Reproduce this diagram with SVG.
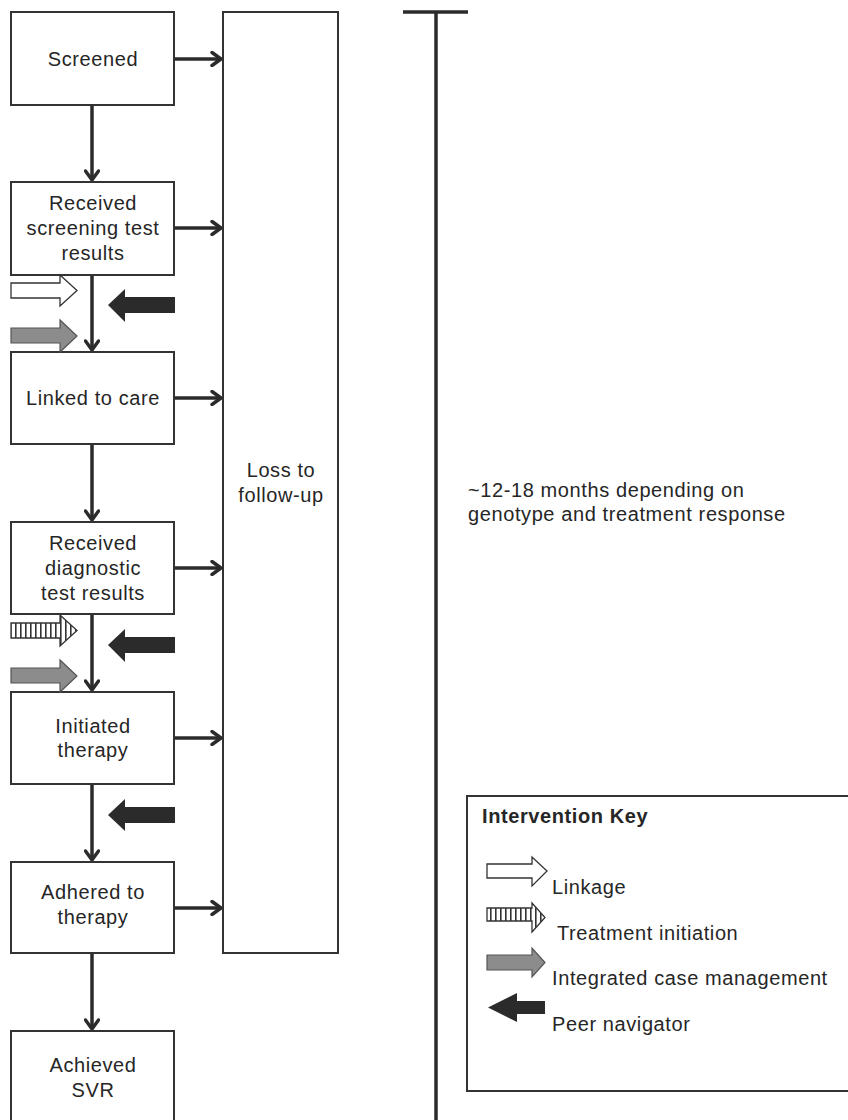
<svg xmlns="http://www.w3.org/2000/svg" width="848" height="1120" viewBox="0 0 848 1120">
<style>
  .box { fill: #fff; stroke: #333; stroke-width: 2; }
  .t { font-family: "Liberation Sans", Arial, sans-serif; font-size: 20px; letter-spacing: 0.6px; fill: #262626; text-anchor: middle; }
  .lt { font-family: "Liberation Sans", Arial, sans-serif; font-size: 20px; letter-spacing: 0.6px; fill: #262626; }
  .conn { stroke: #2b2b2b; stroke-width: 3.5; fill: none; }
  .white { fill: #fff; stroke: #333; stroke-width: 1.3; }
  .gray { fill: #8c8c8c; stroke: #555; stroke-width: 1.2; }
  .black { fill: #2b2b2b; stroke: none; }
  .striped { fill: url(#stripes); stroke: #333; stroke-width: 1.3; }
</style>
<defs>
  <pattern id="stripes" patternUnits="userSpaceOnUse" width="5" height="10">
    <rect width="5" height="10" fill="#fff"/>
    <rect x="0" width="1.6" height="10" fill="#333"/>
  </pattern>
  <marker id="ah" markerWidth="14" markerHeight="16" refX="11" refY="8" orient="auto" markerUnits="userSpaceOnUse">
    <path d="M2,1.5 L11,8 L2,14.5" fill="none" stroke="#2b2b2b" stroke-width="3.4" stroke-linecap="round" stroke-linejoin="round"/>
  </marker>
</defs>
<rect width="848" height="1120" fill="#fff"/>

<g id="connectors">
  <line class="conn" x1="92" y1="105" x2="92" y2="180" marker-end="url(#ah)"/>
  <line class="conn" x1="92" y1="275" x2="92" y2="350" marker-end="url(#ah)"/>
  <line class="conn" x1="92" y1="444" x2="92" y2="520" marker-end="url(#ah)"/>
  <line class="conn" x1="92" y1="614" x2="92" y2="690" marker-end="url(#ah)"/>
  <line class="conn" x1="92" y1="784" x2="92" y2="860" marker-end="url(#ah)"/>
  <line class="conn" x1="92" y1="953" x2="92" y2="1029" marker-end="url(#ah)"/>
  <line class="conn" x1="174" y1="59" x2="221" y2="59" marker-end="url(#ah)"/>
  <line class="conn" x1="174" y1="228" x2="221" y2="228" marker-end="url(#ah)"/>
  <line class="conn" x1="174" y1="398" x2="221" y2="398" marker-end="url(#ah)"/>
  <line class="conn" x1="174" y1="568" x2="221" y2="568" marker-end="url(#ah)"/>
  <line class="conn" x1="174" y1="738" x2="221" y2="738" marker-end="url(#ah)"/>
  <line class="conn" x1="174" y1="908" x2="221" y2="908" marker-end="url(#ah)"/>
</g>

<g id="loss">
  <rect class="box" x="223" y="12" width="115" height="941"/>
  <text class="t" x="281" y="477">Loss to</text>
  <text class="t" x="281" y="502">follow-up</text>
</g>

<g id="screened">
  <rect class="box" x="11" y="12" width="163" height="93"/>
  <text class="t" x="93" y="66">Screened</text>
</g>
<g id="received-screening">
  <rect class="box" x="11" y="182" width="163" height="93"/>
  <text class="t" x="93" y="210">Received</text>
  <text class="t" x="93" y="235">screening test</text>
  <text class="t" x="93" y="260">results</text>
</g>
<g id="linked">
  <rect class="box" x="11" y="352" width="163" height="92"/>
  <text class="t" x="93" y="405">Linked to care</text>
</g>
<g id="received-diagnostic">
  <rect class="box" x="11" y="522" width="163" height="92"/>
  <text class="t" x="93" y="550">Received</text>
  <text class="t" x="93" y="575">diagnostic</text>
  <text class="t" x="93" y="600">test results</text>
</g>
<g id="initiated">
  <rect class="box" x="11" y="692" width="163" height="92"/>
  <text class="t" x="93" y="733">Initiated</text>
  <text class="t" x="93" y="757">therapy</text>
</g>
<g id="adhered">
  <rect class="box" x="11" y="862" width="163" height="91"/>
  <text class="t" x="93" y="899">Adhered to</text>
  <text class="t" x="93" y="924">therapy</text>
</g>
<g id="achieved">
  <rect class="box" x="11" y="1031" width="163" height="100"/>
  <text class="t" x="93" y="1072">Achieved</text>
  <text class="t" x="93" y="1097">SVR</text>
</g>

<g id="interventions">
  <polygon class="white" points="11,283 60,283 60,275 77,290.5 60,306 60,298 11,298"/>
  <polygon class="gray" points="11,328 60,328 60,320 77,336 60,352 60,343 11,343"/>
  <polygon class="black" points="175,297 125,297 125,289 108,305 125,322 125,313 175,313"/>
  <polygon class="striped" points="11,623 60,623 60,615 77,630.5 60,646 60,638 11,638"/>
  <polygon class="gray" points="11,668 60,668 60,660 77,676 60,692 60,683 11,683"/>
  <polygon class="black" points="175,637 125,637 125,629 108,645 125,662 125,653 175,653"/>
  <polygon class="black" points="175,807 125,807 125,799 108,815 125,831 125,823 175,823"/>
</g>

<g id="timeline">
  <line x1="403" y1="12" x2="468" y2="12" stroke="#2b2b2b" stroke-width="3.5"/>
  <line x1="436" y1="12" x2="436" y2="1120" stroke="#2b2b2b" stroke-width="3.5"/>
  <text class="lt" x="468" y="497">~12-18 months depending on</text>
  <text class="lt" x="468" y="521">genotype and treatment response</text>
</g>

<g id="legend">
  <rect x="467" y="796" width="390" height="295" fill="#fff" stroke="#333" stroke-width="2"/>
  <text class="lt" x="482" y="823" font-weight="bold">Intervention Key</text>
  <polygon class="white" points="487,864 532,864 532,857 547,871 532,886 532,878 487,878"/>
  <text class="lt" x="552" y="894">Linkage</text>
  <polygon class="striped" points="487,908 532,908 532,903 545,917.5 532,932 532,921 487,921"/>
  <text class="lt" x="557" y="940">Treatment initiation</text>
  <polygon class="gray" points="487,955 532,955 532,948 545,962.5 532,977 532,970 487,970"/>
  <text class="lt" x="552" y="985">Integrated case management</text>
  <polygon class="black" points="545,1001 517,1001 517,993 488,1007.5 517,1022 517,1014 545,1014"/>
  <text class="lt" x="552" y="1031">Peer navigator</text>
</g>
</svg>
